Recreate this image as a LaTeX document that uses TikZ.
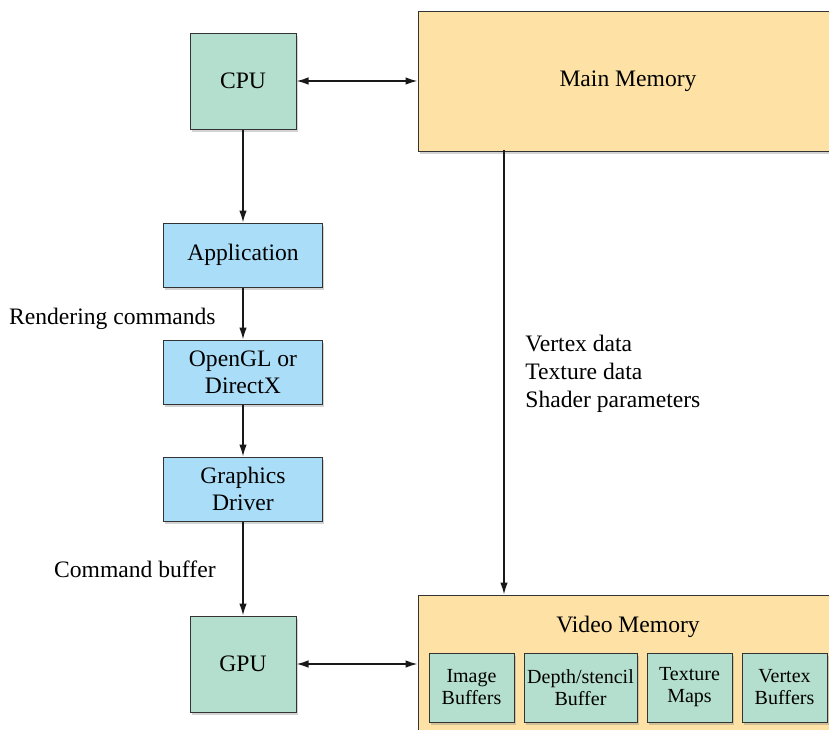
\documentclass[tikz,border=0pt]{standalone}
\usepackage{fontspec}
\setmainfont{Liberation Serif}
\usepackage{tikz}
\usetikzlibrary{arrows.meta,positioning,calc,shadows}

\definecolor{chipgreen}{RGB}{180,222,205}
\definecolor{stepblue}{RGB}{170,221,247}
\definecolor{memorange}{RGB}{253,225,165}

\tikzset{
    boxshadow/.style={drop shadow={shadow xshift=0.8pt,shadow yshift=-1.3pt,opacity=0.35}},
    chip/.style={draw=black!80,line width=0.5pt,fill=chipgreen,boxshadow,minimum width=53pt,minimum height=48pt,font=\fontsize{11.8}{14}\selectfont},
    stepbox/.style={draw=black!80,line width=0.5pt,fill=stepblue,boxshadow,minimum width=79.5pt,minimum height=32pt,align=center,inner sep=1pt,font=\fontsize{11.8}{13.5}\selectfont},
    memory/.style={draw=black!80,line width=0.5pt,fill=memorange,boxshadow,minimum width=210pt,minimum height=70pt,font=\fontsize{11.8}{14}\selectfont},
    buffer/.style={draw=black!80,line width=0.5pt,fill=chipgreen,boxshadow,minimum height=34.5pt,align=center,inner sep=1pt,font=\fontsize{10}{11}\selectfont},
    arr/.style={-{Latex[length=6pt,width=3.8pt]},line width=0.8pt,black!90},
    darr/.style={{Latex[length=6pt,width=3.8pt]}-{Latex[length=6pt,width=3.8pt]},line width=0.8pt,black!90},
    caption/.style={font=\fontsize{11.8}{14}\selectfont,inner sep=0pt}
}

\begin{document}
\begin{tikzpicture}[x=0.5pt,y=-0.5pt]
        \useasboundingbox (0,0) rectangle (829,729);
        \clip (0,0) rectangle (829,729);

        % Processors
        \node[chip] (cpu) at (243,81) {CPU};
        \node[chip] (gpu) at (243,664) {GPU};

        % Software stack
        \node[stepbox] (app) at (243,255) {Application};
        \node[stepbox] (api) at (243,372) {OpenGL or\\DirectX};
        \node[stepbox] (driver) at (243,489) {Graphics\\Driver};

        % Memories
        \node[memory] (mainmem) at (628,81) {Main Memory};
        \node[memory,minimum height=69pt] (vidmem) at (628,664) {};
        \node[caption] (vidtitle) at (628,627) {Video Memory};

        % Buffers inside video memory
        \node[buffer,minimum width=42.5pt] (imgbuf) at (471.5,687.5) {Image\\Buffers};
        \node[buffer,minimum width=56.5pt] (depthbuf) at (580.5,687.5) {Depth/stencil\\Buffer};
        \node[buffer,minimum width=42.5pt] (texmap) at (689.5,687.5) {Texture\\Maps};
        \node[buffer,minimum width=42.5pt] (vertbuf) at (784.5,687.5) {Vertex\\Buffers};

        % Labels
        \node[caption,anchor=east] (rendcmd) at (216,319) {Rendering commands};
        \node[caption,anchor=east] (cmdbuf) at (216,569) {Command buffer};
        \node[caption,anchor=west,align=left] (data) at (525,374) {Vertex data\\Texture data\\Shader parameters};

        % Arrows down the left column
        \draw[arr] (cpu) -- (app);
        \draw[arr] (app) -- (api);
        \draw[arr] (api) -- (driver);
        \draw[arr] (driver) -- (gpu);

        % Arrows to memories
        \draw[darr] (cpu) -- (mainmem);
        \draw[darr] (gpu) -- (vidmem);
        \coordinate (upload) at (504,150);
        \draw[arr] (upload) -- (upload |- vidmem.north);
    \end{tikzpicture}
\end{document}
